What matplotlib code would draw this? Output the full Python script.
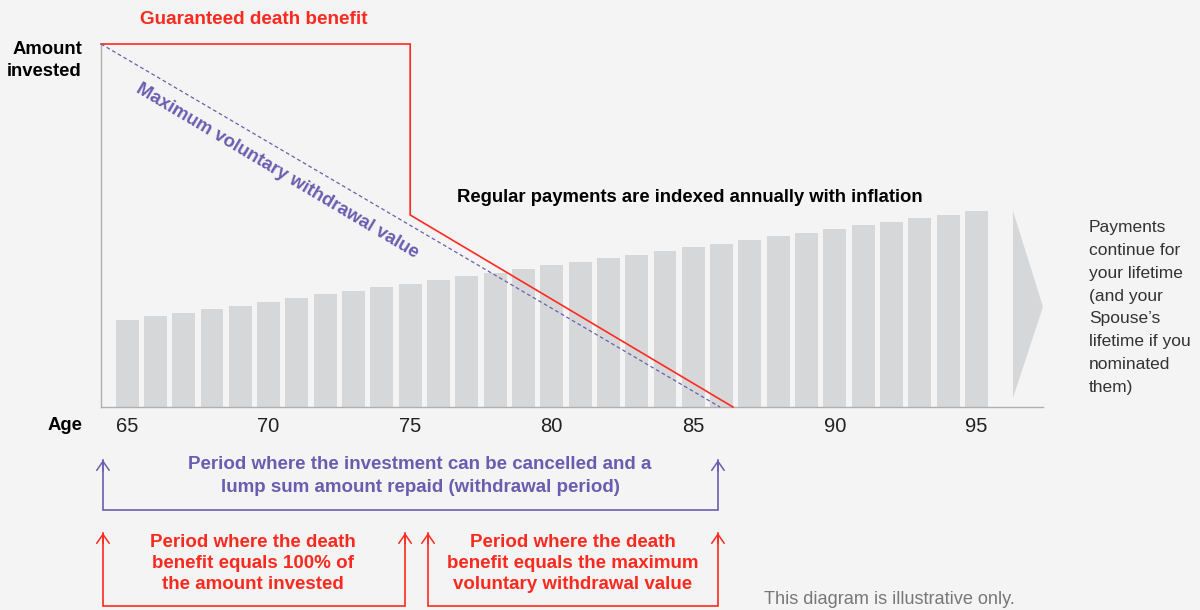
import matplotlib.pyplot as plt
from matplotlib.patches import Polygon

# data
ages = list(range(65, 96))
payments = [24.0, 25.0, 25.9, 27.0, 27.8, 29.0, 30.1, 31.0, 32.0, 33.1,
            33.9, 35.0, 36.1, 36.9, 38.0, 39.1, 39.9, 41.0, 41.9, 43.0,
            44.1, 44.9, 46.0, 47.1, 48.0, 49.0, 50.1, 51.0, 52.0, 53.0, 54.0]
tick_ages = [65, 70, 75, 80, 85, 90, 95]

death_x = [64.08, 75.0, 75.0, 86.4]
death_y = [100, 100, 52.9, 0]
withdraw_x = [64.08, 85.94]
withdraw_y = [100, 0]

# "more payments" arrow on the right
more_x = [96.29, 97.35, 96.29]
more_y = [54, 27.6, 2.5]

# brackets below the axis (age start, age end)
purple_span = (64.15, 85.87)
red_left_span = (64.15, 74.82)
red_right_span = (75.63, 85.87)

BG = "#f4f4f4"
BAR = "#d6d7d9"
RED = "#ff2a1f"
PURPLE = "#6a5db0"
FONT = "Liberation Sans"

fig = plt.figure(figsize=(12, 6.1), dpi=100, facecolor=BG)
ax = fig.add_axes([101 / 1200, 1 - 407 / 610, (1043 - 101) / 1200, (407 - 44) / 610])
ax.set_facecolor(BG)

ax.bar(ages, payments, width=0.81, color=BAR, zorder=1)
ax.add_patch(Polygon(list(zip(more_x, more_y)), closed=True, color=BAR, lw=0, zorder=1))

ax.plot(death_x, death_y, color=RED, lw=1.2, zorder=3, clip_on=False, solid_joinstyle="miter")
ax.plot(withdraw_x, withdraw_y, color=PURPLE, lw=0.9, ls=(0, (3, 2.2)), zorder=3, clip_on=False)

ax.set_xlim(64.08, 97.35)
ax.set_ylim(0, 100)
for s in ["top", "right"]:
    ax.spines[s].set_visible(False)
for s in ["left", "bottom"]:
    ax.spines[s].set_color("#b0b0b0")
    ax.spines[s].set_linewidth(1.0)
ax.set_yticks([])
ax.set_xticks(tick_ages)
ax.set_xticklabels([str(a) for a in tick_ages], fontsize=14.5, color="#222222", family=FONT)
ax.tick_params(axis="x", length=0, pad=7)

ax.text(70.31, 65.0, "Maximum voluntary withdrawal value", rotation=-30.8,
        ha="center", va="center", rotation_mode="anchor", color=PURPLE,
        fontsize=13.3, fontweight="bold", family=FONT)


def bracket(span, top, bottom, color):
    x0, x1 = span
    ax.plot([x0, x0, x1, x1], [top, bottom, bottom, top], color=color, lw=1.2,
            clip_on=False, solid_joinstyle="miter")
    for x in span:
        ax.annotate("", xy=(x, top), xytext=(x, top - 3), xycoords="data",
                    arrowprops=dict(arrowstyle="->,head_length=0.65,head_width=0.45",
                                    color=color, lw=1.1, shrinkA=0, shrinkB=0),
                    annotation_clip=False)


bracket(purple_span, -14.6, -28.4, PURPLE)
bracket(red_left_span, -34.7, -54.9, RED)
bracket(red_right_span, -34.7, -54.9, RED)


def ftext(px, py, s, **kw):
    fig.text(px / 1200, 1 - py / 610, s, family=FONT, **kw)


ftext(254, 20, "Guaranteed death benefit", color=RED, fontsize=13.6, fontweight="bold",
      ha="center", va="center")
ftext(82, 60.5, "Amount\ninvested", color="black", fontsize=13.3, fontweight="bold",
      ha="right", va="center", linespacing=1.35)
ftext(82, 425, "Age", color="black", fontsize=13.3, fontweight="bold", ha="right", va="center")
ftext(690, 197, "Regular payments are indexed annually with inflation", color="black",
      fontsize=13.3, fontweight="bold", ha="center", va="center")
ftext(420, 476, "Period where the investment can be cancelled and a\nlump sum amount repaid (withdrawal period)",
      color=PURPLE, fontsize=13.5, fontweight="bold", ha="center", va="center", linespacing=1.4)
ftext(253, 563.5, "Period where the death\nbenefit equals 100% of\nthe amount invested",
      color=RED, fontsize=13.5, fontweight="bold", ha="center", va="center", linespacing=1.3)
ftext(573, 563.5, "Period where the death\nbenefit equals the maximum\nvoluntary withdrawal value",
      color=RED, fontsize=13.5, fontweight="bold", ha="center", va="center", linespacing=1.3)
ftext(1089, 307.5, "Payments\ncontinue for\nyour lifetime\n(and your\nSpouse\u2019s\nlifetime if you\nnominated\nthem)",
      color="#333333", fontsize=12.5, ha="left", va="center", linespacing=1.66)
ftext(764, 600, "This diagram is illustrative only.", color="#777777", fontsize=13.1,
      ha="left", va="center")

fig.savefig("out.png", dpi=100, facecolor=BG)
